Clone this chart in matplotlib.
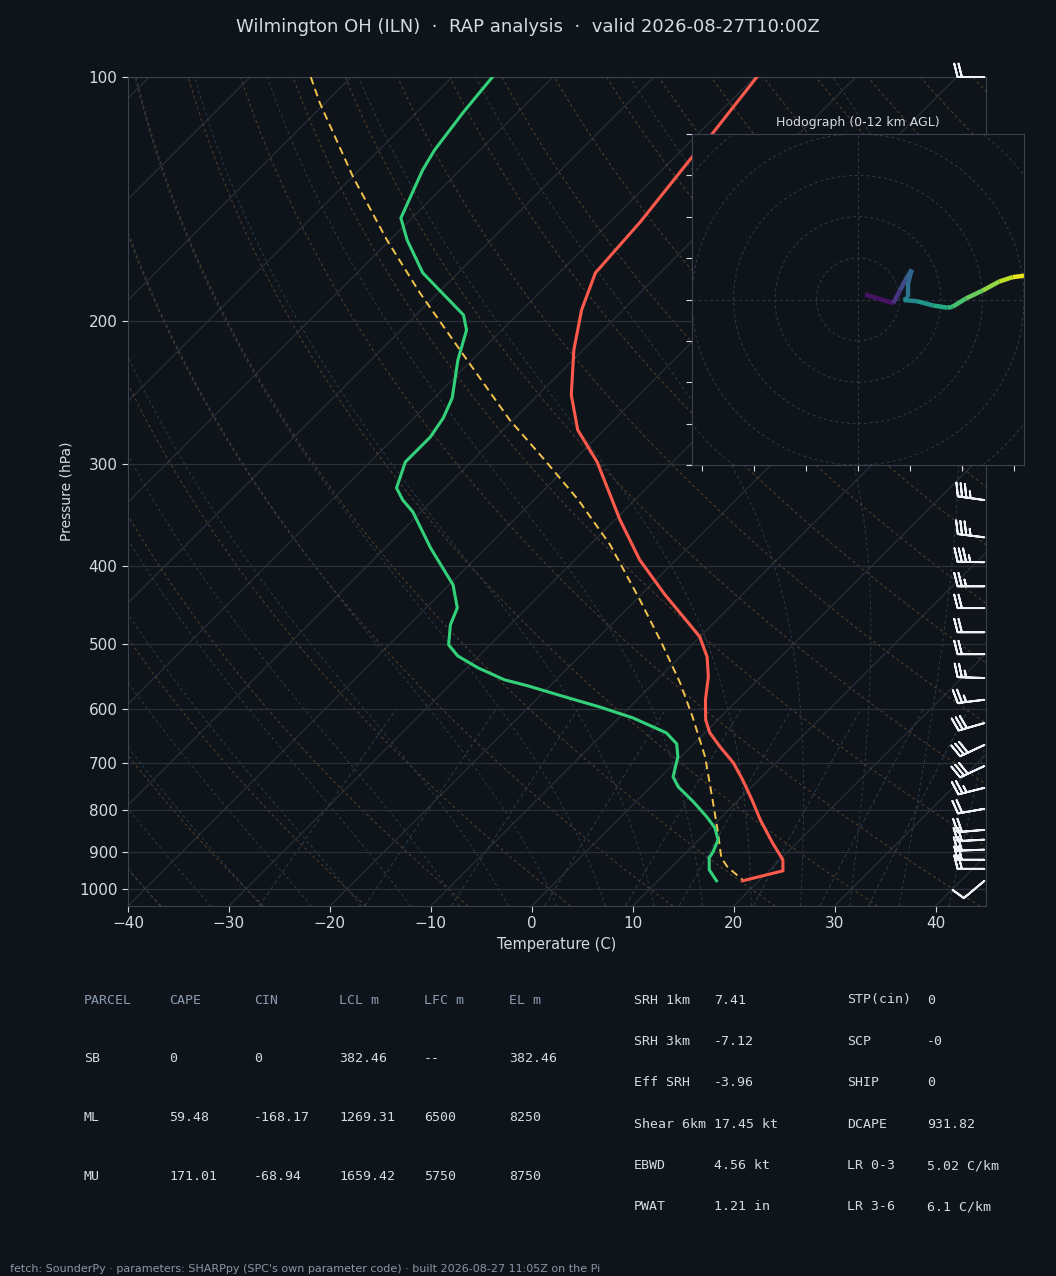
import numpy as np
import matplotlib
matplotlib.use("Agg")
import matplotlib.pyplot as plt
from matplotlib.collections import LineCollection
from matplotlib.patches import Circle
from matplotlib.ticker import FixedLocator, MultipleLocator, FuncFormatter, NullLocator

# ---- sounding data ----
p_temp = [100, 117.5, 125.4, 150.8, 174.3, 193.6, 216.9, 246.4, 272.1, 298.0, 351.2, 393.3,
          434.5, 469.1, 489.5, 518, 548.2, 585.3, 619.4, 642.6, 668.6, 699.6, 734.2, 777,
          822.2, 877.9, 921, 950.2, 977.5]
temp = [-59.8, -58.6, -58.3, -57.0, -56.4, -54.1, -50.9, -46.7, -42.6, -37.5, -29.5, -23.6,
        -17.6, -12.7, -10.0, -7.3, -5.2, -3.2, -1.2, 0.5, 2.9, 5.8, 8.4, 11.3,
        14.1, 17.6, 20.3, 21.4, 18.4]

p_dew = [100, 110.4, 123, 130.2, 149.2, 158.8, 174.3, 196.4, 205, 223.1, 248.5, 263, 277.6,
         298, 320.8, 331.9, 343.4, 380.2, 422.3, 450.8, 473.1, 500.6, 516.6, 534.4, 552.8,
         562.3, 580.3, 597, 615.9, 642.6, 662.9, 687.8, 727.8, 748.8, 781.4, 815.3, 841.2,
         870.2, 900.4, 915.8, 947.6, 977.5]
dewp = [-86.0, -85.4, -84.5, -83.7, -81.1, -78.3, -73.5, -65.3, -63.5, -61.4, -58.2, -57.1, -56.5,
        -56.5, -54.8, -53.0, -50.8, -45.5, -39.6, -36.9, -35.9, -34.1, -32.1, -28.9, -25.1,
        -22.2, -17.4, -13.0, -8.6, -3.8, -1.7, -0.3, 1.2, 2.7, 5.7, 8.5, 10.4,
        11.9, 12.6, 12.8, 14.0, 15.8]

p_parcel = [100, 107.7, 132.8, 158.8, 184.5, 223.1, 264.6, 296.3, 331.9, 377, 440.7, 497.8,
            557.6, 614.1, 687.8, 777, 853.1, 915.8, 939.6, 975]
parcel = [-104.0, -100.5, -89.9, -80.3, -71.8, -60.5, -50.3, -42.9, -35.6, -28.0, -19.6, -13.2,
          -7.4, -2.8, 2.4, 7.4, 11.2, 14.0, 15.5, 18.3]

# wind barbs: pressure (hPa), speed (kt), direction (deg)
p_wind = [100, 332, 369, 396, 424, 451, 483, 514, 550, 585, 625, 665, 706, 751, 797, 846,
          870, 895, 921, 945, 978]
wspd = [20, 35, 35, 35, 25, 20, 20, 20, 25, 25, 30, 30, 30, 25, 20, 20, 20, 20, 20, 20, 10]
wdir = [270, 278, 277, 271, 270, 270, 270, 270, 272, 263, 254, 245, 245, 256, 260, 265,
        267, 268, 270, 270, 230]

# hodograph trace (u, v) and height (km)
hodo_u = [3.4, 17.0, 20.2, 22.7, 25.9, 24.3, 24.3, 22.0, 28.3, 36.3, 43.2, 45.6, 52.0, 60.0, 68.1, 74.5, 84.0]
hodo_v = [2.4, -1.8, 4.3, 9.2, 14.5, 8.4, 1.1, -0.3, -0.8, -2.9, -4.0, -3.5, 0.5, 4.3, 8.7, 10.8, 12.0]
hodo_z = [0, 1.2, 2.4, 3.0, 3.6, 4.2, 4.8, 5.2, 5.8, 6.8, 7.8, 8.2, 8.8, 9.6, 10.4, 11.2, 12.0]

# parameter tables
parcel_head = ["PARCEL", "CAPE", "CIN", "LCL m", "LFC m", "EL m"]
parcel_rows = [["SB", "0", "0", "382.46", "--", "382.46"],
               ["ML", "59.48", "-168.17", "1269.31", "6500", "8250"],
               ["MU", "171.01", "-68.94", "1659.42", "5750", "8750"]]
par_names1 = ["SRH 1km", "SRH 3km", "Eff SRH", "Shear 6km", "EBWD", "PWAT"]
par_vals1 = ["7.41", "-7.12", "-3.96", "17.45 kt", "4.56 kt", "1.21 in"]
par_names2 = ["STP(cin)", "SCP", "SHIP", "DCAPE", "LR 0-3", "LR 3-6"]
par_vals2 = ["0", "-0", "0", "931.82", "5.02 C/km", "6.1 C/km"]

title = "Wilmington OH (ILN)  \u00b7  RAP analysis  \u00b7  valid 2026-08-27T10:00Z"
footer = ("fetch: SounderPy \u00b7 parameters: SHARPpy (SPC's own parameter code) \u00b7 "
          "built 2026-08-27 11:05Z on the Pi")

BG = "#0f141a"
FG = "#d5dbe2"
HEAD = "#8b9bb0"
SPINE = "#3a4350"

P_BOT, P_TOP = 1050, 100
SKEW = 80.4


def skx(t, p):
    return np.asarray(t, float) + SKEW * np.log10(P_BOT / np.asarray(p, float))


Rd, Cp, Lv, eps = 287.04, 1005.7, 2.501e6, 0.622


def dtdp(t, p):
    es = 6.112 * np.exp(17.67 * (t - 273.15) / (t - 29.65))
    rs = eps * es / (p - es)
    return (Rd * t + Lv * rs) / (Cp + Lv * Lv * rs * eps / (Rd * t * t)) / p


def moist(t0, ps):
    ts = [t0 + 273.15]
    for i in range(len(ps) - 1):
        p0, dp = ps[i], ps[i + 1] - ps[i]
        t = ts[-1]
        k1 = dtdp(t, p0)
        k2 = dtdp(t + 0.5 * dp * k1, p0 + 0.5 * dp)
        k3 = dtdp(t + 0.5 * dp * k2, p0 + 0.5 * dp)
        k4 = dtdp(t + dp * k3, p0 + dp)
        ts.append(t + dp * (k1 + 2 * k2 + 2 * k3 + k4) / 6)
    return np.array(ts) - 273.15


fig = plt.figure(figsize=(10.56, 12.76), dpi=100, facecolor=BG)
ax = fig.add_axes([128 / 1056, 370 / 1276, 858 / 1056, 829 / 1276])
ax.set_facecolor(BG)
ax.set_yscale("log")
ax.set_ylim(P_BOT, P_TOP)
ax.set_xlim(-40, 45)

# background lines
pp = np.array([P_BOT, P_TOP])
for t in range(-130, 50, 10):
    ax.plot(skx([t, t], pp), pp, color="#2a313b", lw=0.8, zorder=1)

pd_ = np.geomspace(P_BOT, P_TOP, 80)
for th in range(-40, 201, 10):
    tt = (th + 273.15) * (pd_ / 1000.0) ** 0.2857 - 273.15
    ax.plot(skx(tt, pd_), pd_, color="#56412d", lw=0.7, ls=(0, (3, 3)), zorder=1)

up = np.geomspace(1000, P_TOP, 120)
dn = np.geomspace(1000, P_BOT, 8)
t0s = np.arange(-40, 46, 5.0)
t_up = moist(t0s, up)
t_dn = moist(t0s, dn)
for i in range(len(t0s)):
    ps = np.concatenate([dn[::-1], up[1:]])
    ts = np.concatenate([t_dn[::-1, i], t_up[1:, i]])
    ax.plot(skx(ts, ps), ps, color="#2b3d48", lw=0.7, ls=(0, (3, 3)), zorder=1)

pm = np.geomspace(P_BOT, 600, 20)
for w in [0.0004, 0.001, 0.002, 0.004, 0.007, 0.01, 0.016, 0.024, 0.032]:
    e = w * pm / (eps + w)
    lg = np.log(e / 6.112)
    td = 243.5 * lg / (17.67 - lg)
    ax.plot(skx(td, pm), pm, color="#2b3d48", lw=0.7, ls=(0, (4, 3)), zorder=1)

# profiles
ax.plot(skx(parcel, p_parcel), p_parcel, color="#f2c44c", lw=1.4, ls=(0, (4, 2.5)), zorder=4)
ax.plot(skx(temp, p_temp), p_temp, color="#ff5a4c", lw=2.2, zorder=5)
ax.plot(skx(dewp, p_dew), p_dew, color="#33d17a", lw=2.2, zorder=5)

# wind barbs along the right edge
ws = np.array(wspd, float)
wd = np.radians(wdir)
ax.barbs(np.full(len(p_wind), 0.998), p_wind, -ws * np.sin(wd), -ws * np.cos(wd),
         transform=ax.get_yaxis_transform(), color="#eef2f6", length=6.2,
         sizes=dict(height=0.5, spacing=0.16), linewidth=1.4, clip_on=False, zorder=6)

ax.yaxis.set_major_locator(FixedLocator(range(100, 1001, 100)))
ax.yaxis.set_major_formatter(FuncFormatter(lambda v, pos: f"{v:.0f}"))
ax.yaxis.set_minor_locator(NullLocator())
ax.xaxis.set_major_locator(MultipleLocator(10))
ax.grid(axis="y", color="#2a313b", lw=0.9, zorder=1)
ax.tick_params(colors=FG, labelsize=11, length=4)
for s in ax.spines.values():
    s.set_color(SPINE)
ax.set_ylabel("Pressure (hPa)", color=FG, fontsize=10)
ax.set_xlabel("Temperature (C)", color=FG, fontsize=10.5)

# hodograph inset
hx = fig.add_axes([692 / 1056, (1276 - 465) / 1276, 332 / 1056, 331 / 1276])
hx.set_facecolor(BG)
hx.set_xlim(-80, 80)
hx.set_ylim(-80, 80)
for r in range(20, 101, 20):
    hx.add_patch(Circle((0, 0), r, fill=False, ls=(0, (3, 3)), lw=0.7, color="#323b47"))
hx.axhline(0, color="#323b47", lw=0.7, ls=(0, (3, 3)))
hx.axvline(0, color="#323b47", lw=0.7, ls=(0, (3, 3)))
pts = np.column_stack([hodo_u, hodo_v])
segs = np.stack([pts[:-1], pts[1:]], axis=1)
hz = np.array(hodo_z)
lc = LineCollection(segs, cmap="viridis", norm=plt.Normalize(0, 12), lw=3.2)
lc.set_array((hz[:-1] + hz[1:]) / 2)
hx.add_collection(lc)
hx.xaxis.set_major_locator(MultipleLocator(25))
hx.yaxis.set_major_locator(MultipleLocator(20))
hx.tick_params(colors=FG, labelbottom=False, labelleft=False, length=4)
for s in hx.spines.values():
    s.set_color(SPINE)
hx.set_title("Hodograph (0-12 km AGL)", color=FG, fontsize=9, pad=6)

# title + footer
fig.text(0.5, 1 - 27 / 1276, title, ha="center", va="center", color=FG, fontsize=13)
fig.text(10 / 1056, 1 - 1269 / 1276, footer, ha="left", va="center", color="#8b96a5", fontsize=8)

# parcel table
mono = "DejaVu Sans Mono"
for j, h in enumerate(parcel_head):
    fig.text((84 + 85 * j) / 1056, 1 - 1000 / 1276, h, family=mono, fontsize=9.5,
             color=HEAD, va="center")
for i, row in enumerate(parcel_rows):
    for j, val in enumerate(row):
        fig.text((84 + 85 * j) / 1056, 1 - (1059 + 58.7 * i) / 1276, val, family=mono,
                 fontsize=9.5, color=FG, va="center")

# parameter table
for i in range(len(par_names1)):
    y = 1 - (1000 + 41.4 * i) / 1276
    fig.text(634 / 1056, y, par_names1[i], family=mono, fontsize=9.5, color=FG, va="center")
    fig.text(714 / 1056, y, par_vals1[i], family=mono, fontsize=9.5, color=FG, va="center")
    fig.text(847 / 1056, y, par_names2[i], family=mono, fontsize=9.5, color=FG, va="center")
    fig.text(927 / 1056, y, par_vals2[i], family=mono, fontsize=9.5, color=FG, va="center")

fig.savefig("out.png", dpi=100, facecolor=BG)
